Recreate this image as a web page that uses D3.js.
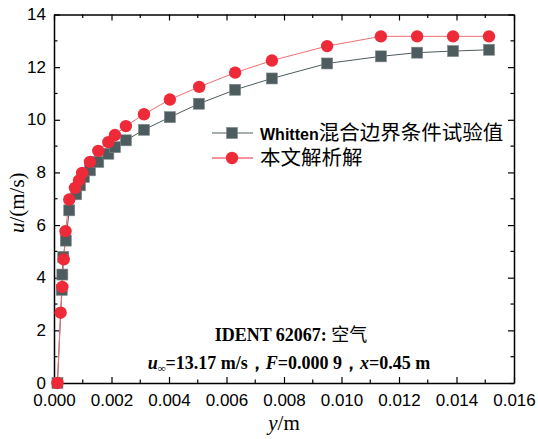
<!DOCTYPE html>
<html>
<head>
<meta charset="utf-8">
<script src="https://cdn.jsdelivr.net/npm/d3@7"></script>
<style>
  body { margin: 0; background: #fff; }
  svg { display: block; }
</style>
</head>
<body>
<div id="chart"></div>
<script>
// Whitten experimental data (gray squares)
const expY = [0.00012, 0.00027, 0.00029, 0.00032, 0.00041, 0.00053, 0.00077, 0.0009, 0.00104, 0.00125, 0.00154, 0.00189,
  0.00212, 0.0025, 0.00313, 0.00403, 0.00504, 0.0063, 0.00758, 0.0095, 0.01137, 0.01263, 0.01388, 0.01513];
const expU = [0, 3.54, 4.12, 4.79, 5.41, 6.56, 7.17, 7.51, 7.83, 8.08, 8.40, 8.71,
  8.96, 9.22, 9.62, 10.10, 10.61, 11.14, 11.57, 12.14, 12.41, 12.55, 12.61, 12.66];
// analytical solution (red circles)
const calcY = [0.00012, 0.00023, 0.00029, 0.00034, 0.00040, 0.00053, 0.00073, 0.00087, 0.00098, 0.00125, 0.00154, 0.00189,
  0.00212, 0.0025, 0.00313, 0.00403, 0.00505, 0.0063, 0.00758, 0.0095, 0.01137, 0.01263, 0.01388, 0.01513];
const calcU = [0, 2.67, 3.65, 4.70, 5.77, 6.97, 7.41, 7.70, 7.98, 8.40, 8.82, 9.15,
  9.42, 9.76, 10.21, 10.77, 11.25, 11.79, 12.25, 12.80, 13.17, 13.17, 13.17, 13.17];

const xTicks = [0, 0.002, 0.004, 0.006, 0.008, 0.010, 0.012, 0.014, 0.016];
const yTicks = [0, 2, 4, 6, 8, 10, 12, 14];
const legendNames = ['混合边界条件试验值', '本文解析解'];

const width = 538, height = 439;
const margin = {left: 54, right: 24, top: 14.5, bottom: 56};
const gray = '#4d5c5e', red = '#ee2a38';

const svg = d3.select('#chart').append('svg')
  .attr('width', width)
  .attr('height', height);

const x = d3.scaleLinear().domain([0, 0.016]).range([margin.left, width - margin.right]);
const y = d3.scaleLinear().domain([0, 14]).range([height - margin.bottom, margin.top]);

// minor ticks
const xMinor = d3.range(0.001, 0.016, 0.002);
const yMinor = d3.range(1, 14, 2);

function axisTicks(g, axis, major, minor) {
  g.call(axis.tickValues(major).tickSizeInner(-6).tickSizeOuter(0));
  minor.forEach(v => {
    const t = g.append('g').attr('class', 'minor');
    if (axis === xAxisB || axis === xAxisT) {
      t.append('line').attr('x1', x(v)).attr('x2', x(v))
        .attr('y1', 0).attr('y2', axis === xAxisB ? -3.5 : 3.5);
    } else {
      t.append('line').attr('y1', y(v)).attr('y2', y(v))
        .attr('x1', 0).attr('x2', axis === yAxisL ? 3.5 : -3.5);
    }
  });
}

const xAxisB = d3.axisBottom(x).tickFormat(d3.format('.3f'));
const xAxisT = d3.axisTop(x).tickFormat('');
const yAxisL = d3.axisLeft(y).tickFormat(d3.format('d'));
const yAxisR = d3.axisRight(y).tickFormat('');

const gB = svg.append('g').attr('transform', `translate(0,${y(0)})`);
axisTicks(gB, xAxisB, xTicks, xMinor);
const gT = svg.append('g').attr('transform', `translate(0,${y(14)})`);
axisTicks(gT, xAxisT, xTicks, xMinor);
const gL = svg.append('g').attr('transform', `translate(${x(0)},0)`);
axisTicks(gL, yAxisL, yTicks, yMinor);
const gR = svg.append('g').attr('transform', `translate(${x(0.016)},0)`);
axisTicks(gR, yAxisR, yTicks, yMinor);

svg.selectAll('.domain').attr('stroke', '#000').attr('stroke-width', 1.5);
svg.selectAll('.tick line, .minor line').attr('stroke', '#000').attr('stroke-width', 1.2);
svg.selectAll('.tick text')
  .attr('font-family', 'Liberation Sans, Arial, sans-serif')
  .attr('font-size', 17)
  .attr('fill', '#000');
gB.selectAll('.tick text').attr('dy', '1.15em');
gL.selectAll('.tick text').attr('x', -8).attr('dy', '0.3em');

// series
const line = d3.line().x(d => x(d[0])).y(d => y(d[1]));
const expPts = d3.zip(expY, expU);
const calcPts = d3.zip(calcY, calcU);

svg.append('path').datum(expPts)
  .attr('d', line).attr('fill', 'none').attr('stroke', gray).attr('stroke-width', 1);
svg.append('path').datum(calcPts)
  .attr('d', line).attr('fill', 'none').attr('stroke', '#f07070').attr('stroke-width', 1);

const sq = 11;
svg.append('g').selectAll('rect').data(expPts).join('rect')
  .attr('x', d => x(d[0]) - sq / 2)
  .attr('y', d => y(d[1]) - sq / 2)
  .attr('width', sq).attr('height', sq)
  .attr('fill', gray).attr('stroke', '#7c8888').attr('stroke-width', 0.6);

svg.append('g').selectAll('circle').data(calcPts).join('circle')
  .attr('cx', d => x(d[0]))
  .attr('cy', d => y(d[1]))
  .attr('r', 6.2)
  .attr('fill', red);

// legend
const lg = svg.append('g');
const rows = [{c: gray, sym: 'sq', y: 133}, {c: red, sym: 'ci', y: 158}];
rows.forEach((r, i) => {
  lg.append('line').attr('x1', 212).attr('x2', 253).attr('y1', r.y).attr('y2', r.y)
    .attr('stroke', r.c).attr('stroke-width', 1);
  if (r.sym === 'sq') {
    lg.append('rect').attr('x', 232 - 5.5).attr('y', r.y - 5.5).attr('width', 11).attr('height', 11)
      .attr('fill', gray).attr('stroke', '#7c8888').attr('stroke-width', 0.6);
  } else {
    lg.append('circle').attr('cx', 232).attr('cy', r.y).attr('r', 6.2).attr('fill', red);
  }
  const t = lg.append('text').attr('x', 260).attr('y', r.y).attr('dy', '0.36em')
    .attr('font-family', 'Noto Sans CJK SC, sans-serif').attr('font-size', 20.5).attr('fill', '#000');
  if (i === 0) {
    t.append('tspan').text('Whitten')
      .attr('font-family', 'Liberation Sans, Arial, sans-serif')
      .attr('font-weight', 'bold').attr('font-size', 16);
  }
  t.append('tspan').text(legendNames[i]);
});

// axis titles
svg.append('text')
  .attr('transform', `translate(24,${(y(0) + y(14)) / 2 + 4}) rotate(-90)`)
  .attr('text-anchor', 'middle')
  .attr('font-family', 'Liberation Serif, Times New Roman, serif')
  .attr('font-size', 21)
  .html('<tspan font-style="italic">u</tspan>/(m/s)');

svg.append('text')
  .attr('x', (x(0) + x(0.016)) / 2).attr('y', 430)
  .attr('text-anchor', 'middle')
  .attr('font-family', 'Liberation Serif, Times New Roman, serif')
  .attr('font-size', 21)
  .html('<tspan font-style="italic">y</tspan>/m');

// annotation
const ann = svg.append('g')
  .attr('font-family', 'Liberation Serif, Times New Roman, serif')
  .attr('font-weight', 'bold')
  .attr('font-size', 18);
ann.append('text').attr('x', 291).attr('y', 341).attr('text-anchor', 'middle')
  .html('IDENT 62067: <tspan font-family="Noto Sans CJK SC" font-weight="normal">空气</tspan>');
ann.append('text').attr('x', 289).attr('y', 369).attr('text-anchor', 'middle')
  .html('<tspan font-style="italic">u</tspan><tspan font-size="11" dy="3">∞</tspan><tspan dy="-3">=13.17 m/s，</tspan>' +
        '<tspan font-style="italic">F</tspan>=0.000 9，<tspan font-style="italic">x</tspan>=0.45 m');
</script>
</body>
</html>
